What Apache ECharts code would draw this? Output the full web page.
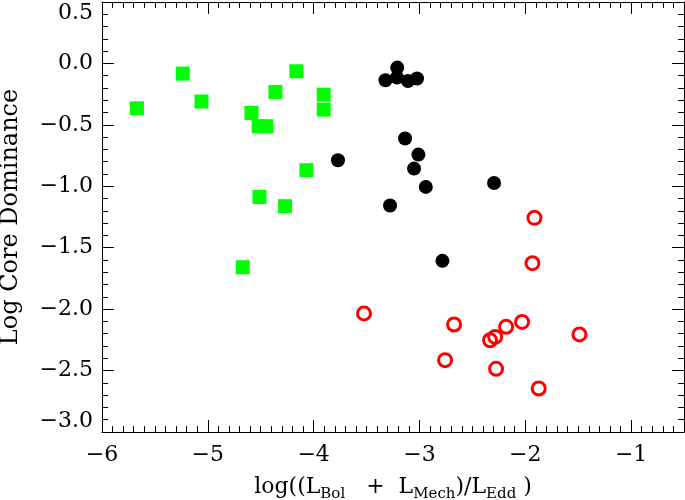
<!DOCTYPE html>
<html>
<head>
<meta charset="utf-8">
<script src="https://cdn.jsdelivr.net/npm/echarts@6/dist/echarts.min.js"></script>
<style>html,body{margin:0;padding:0;background:#fff}#c{width:685px;height:500px}</style>
</head>
<body>
<div id="c"></div>
<script>
// Green squares
const greenX = [-5.67, -5.237, -5.06, -4.588, -4.519, -4.446, -4.361, -4.163, -3.905, -3.905, -4.068, -4.512, -4.27, -4.67];
const greenY = [-0.365, -0.083, -0.31, -0.403, -0.511, -0.511, -0.232, -0.064, -0.254, -0.376, -0.869, -1.087, -1.162, -1.659];
// Black filled circles
const blackX = [-3.21, -3.321, -3.212, -3.108, -3.023, -3.136, -3.01, -3.051, -2.94, -3.77, -2.295, -3.278, -2.783];
const blackY = [-0.034, -0.137, -0.115, -0.143, -0.123, -0.611, -0.742, -0.856, -1.005, -0.788, -0.973, -1.157, -1.607];
// Red open circles
const redX = [-1.913, -1.932, -3.524, -2.673, -2.333, -2.285, -2.181, -2.03, -1.488, -2.758, -2.276, -1.873];
const redY = [-1.257, -1.626, -2.035, -2.125, -2.253, -2.226, -2.144, -2.104, -2.206, -2.415, -2.486, -2.646];

const xMin = -6, xMax = -0.5, xInterval = 1;
const yMin = -3.0, yMax = 0.5, yInterval = 0.5;
const yAxisTitle = 'Log Core Dominance';

const zip = (a, b) => a.map((v, i) => [v, b[i]]);
const FONT = '"DejaVu Serif", serif';

const tickCommon = {
  axisLine: {show: true, onZero: false, lineStyle: {color: '#000', width: 1}},
  axisTick: {show: true, inside: true, length: 12, lineStyle: {color: '#000', width: 1}},
  splitLine: {show: false},
  minorSplitLine: {show: false}
};
const xMinor = {minorTick: {show: true, splitNumber: 10, length: 6, lineStyle: {color: '#000', width: 1}}};
const yMinor = {minorTick: {show: true, splitNumber: 5, length: 6, lineStyle: {color: '#000', width: 1}}};

const chart = echarts.init(document.getElementById('c'), null, {renderer: 'canvas'});
chart.setOption({
  animation: false,
  backgroundColor: '#fff',
  grid: {left: 102, right: 1, top: 2, bottom: 68, containLabel: false, outerBoundsMode: 'none'},
  xAxis: [
    Object.assign({
      type: 'value', position: 'bottom', min: xMin, max: xMax, interval: xInterval,
      axisLabel: {
        color: '#000', fontFamily: FONT, fontSize: 22, margin: 12,
        formatter: v => (Math.abs(v - Math.round(v)) < 1e-9 ? String(v).replace('-', '\u2212') : ''),
        showMaxLabel: false
      },
      name: '{n|log((L}{s|Bol}{n|   +  L}{s|Mech}{n|)/L}{s|Edd}{n| )}',
      nameLocation: 'middle', nameGap: 40,
      nameTextStyle: {
        rich: {
          n: {fontFamily: FONT, fontSize: 22, color: '#000', lineHeight: 30, verticalAlign: 'middle'},
          s: {fontFamily: FONT, fontSize: 15, color: '#000', lineHeight: 14, verticalAlign: 'bottom'}
        }
      }
    }, tickCommon, xMinor),
    Object.assign({
      type: 'value', position: 'top', min: xMin, max: xMax, interval: xInterval,
      axisLabel: {show: false}
    }, tickCommon, xMinor)
  ],
  yAxis: [
    Object.assign({
      type: 'value', position: 'left', min: yMin, max: yMax, interval: yInterval,
      axisLabel: {
        color: '#000', fontFamily: FONT, fontSize: 22, margin: 9,
        verticalAlignMaxLabel: 'top', verticalAlignMinLabel: 'bottom',
        formatter: v => v.toFixed(1).replace('-', '\u2212')
      },
      name: yAxisTitle, nameLocation: 'middle', nameGap: 79, nameRotate: 90,
      nameTextStyle: {fontFamily: FONT, fontSize: 24, color: '#000'}
    }, tickCommon, yMinor),
    Object.assign({
      type: 'value', position: 'right', min: yMin, max: yMax, interval: yInterval,
      axisLabel: {show: false}
    }, tickCommon, yMinor)
  ],
  series: [
    {
      type: 'scatter', xAxisIndex: 0, yAxisIndex: 0,
      data: zip(greenX, greenY), symbol: 'rect', symbolSize: 14,
      itemStyle: {color: '#00ff00', opacity: 1}
    },
    {
      type: 'scatter', xAxisIndex: 0, yAxisIndex: 0,
      data: zip(blackX, blackY), symbol: 'circle', symbolSize: 14,
      itemStyle: {color: '#000', opacity: 1}
    },
    {
      type: 'scatter', xAxisIndex: 0, yAxisIndex: 0,
      data: zip(redX, redY), symbol: 'circle', symbolSize: 13,
      itemStyle: {color: 'rgba(0,0,0,0)', borderColor: '#ff0000', borderWidth: 3, opacity: 1}
    }
  ]
});
</script>
</body>
</html>
